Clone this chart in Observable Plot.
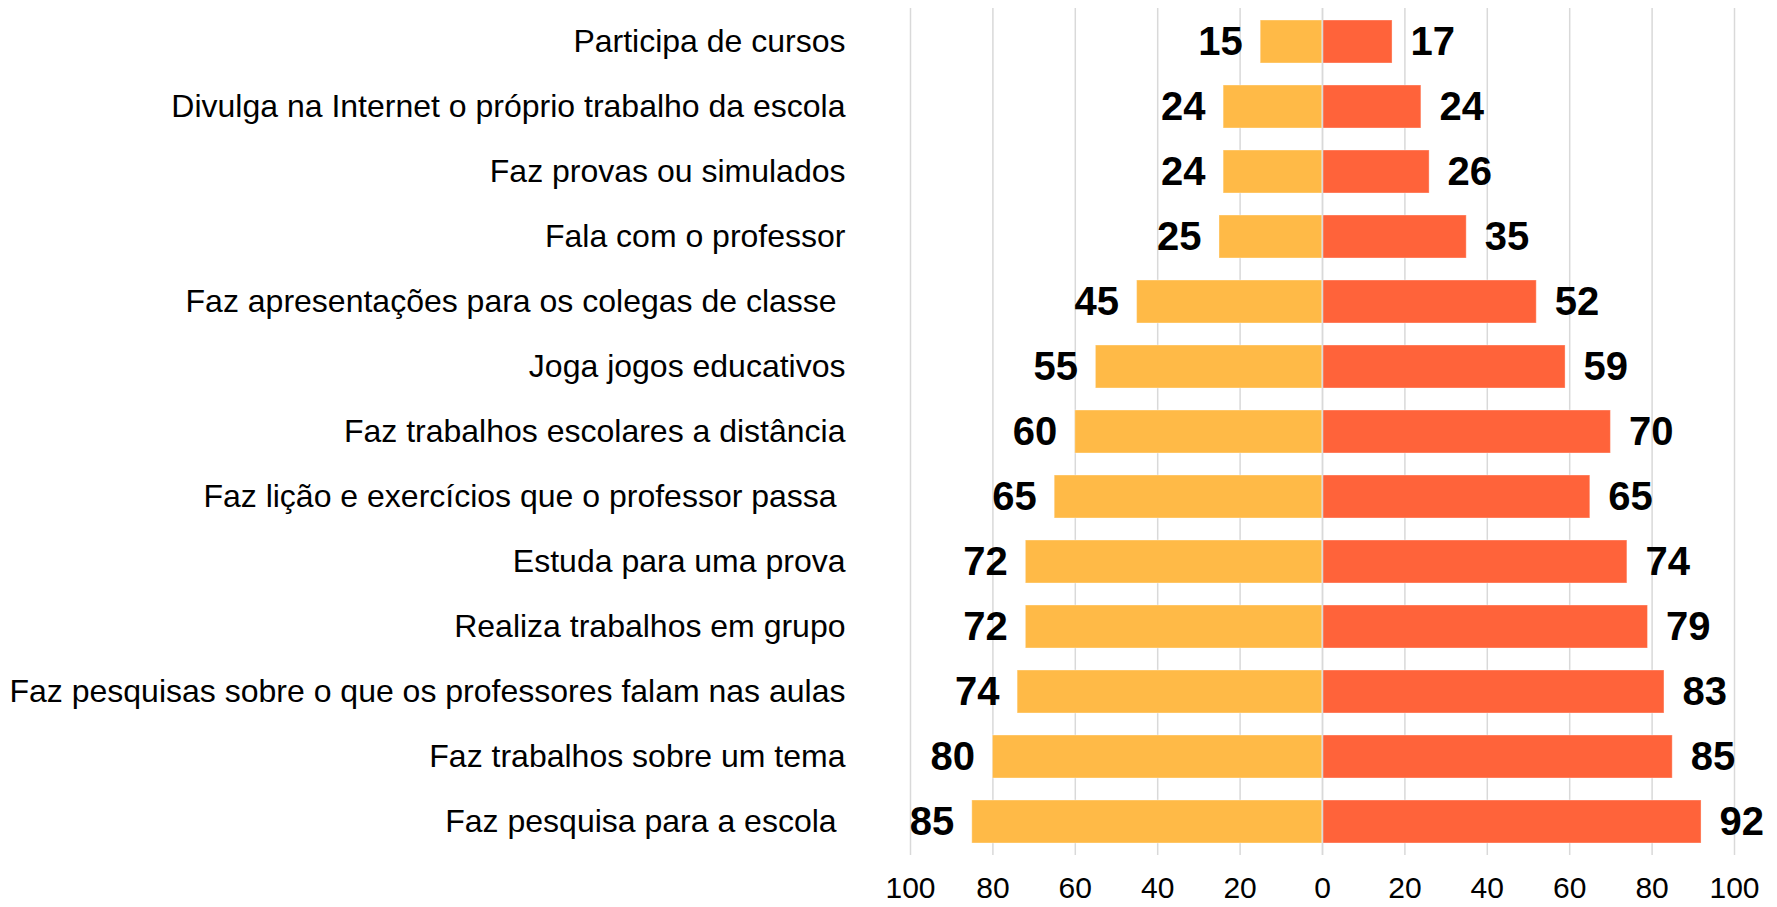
<!DOCTYPE html>
<html>
<head>
<meta charset="utf-8">
<script src="https://cdn.jsdelivr.net/npm/d3@7"></script>
<script src="https://cdn.jsdelivr.net/npm/@observablehq/plot@0.6"></script>
<style>
  html, body { margin: 0; padding: 0; background: #fff; }
  svg text { white-space: pre; }
</style>
</head>
<body>
<div id="chart"></div>
<script>
const categories = [
  "Participa de cursos",
  "Divulga na Internet o próprio trabalho da escola",
  "Faz provas ou simulados",
  "Fala com o professor",
  "Faz apresentações para os colegas de classe ",
  "Joga jogos educativos",
  "Faz trabalhos escolares a distância",
  "Faz lição e exercícios que o professor passa ",
  "Estuda para uma prova",
  "Realiza trabalhos em grupo",
  "Faz pesquisas sobre o que os professores falam nas aulas",
  "Faz trabalhos sobre um tema",
  "Faz pesquisa para a escola "
];
const leftValues  = [15, 24, 24, 25, 45, 55, 60, 65, 72, 72, 74, 80, 85];
const rightValues = [17, 24, 26, 35, 52, 59, 70, 65, 74, 79, 83, 85, 92];
const xTicks = [-100, -80, -60, -40, -20, 0, 20, 40, 60, 80, 100];

const leftData = categories.map((c, i) => ({cat: c, v: leftValues[i]}));
const rightData = categories.map((c, i) => ({cat: c, v: rightValues[i]}));

const chart = Plot.plot({
  width: 1777,
  height: 907,
  marginLeft: 910,
  marginRight: 43,
  marginTop: 8,
  marginBottom: 52,
  style: {fontFamily: "'Liberation Sans', Arial, sans-serif", color: "#000", background: "#fff"},
  x: {domain: [-100, 100]},
  y: {domain: categories, paddingInner: 0.34, paddingOuter: 0.174},
  marks: [
    Plot.ruleX(xTicks, {stroke: "#d9d9d9", strokeWidth: 1.5}),
    Plot.barX(leftData, {y: "cat", x1: 0, x2: d => -d.v, fill: "#FFBA47", stroke: "#fff", strokeOpacity: 0.35, strokeWidth: 1}),
    Plot.barX(rightData, {y: "cat", x1: 0, x2: "v", fill: "#FF633A", stroke: "#fff", strokeOpacity: 0.35, strokeWidth: 1}),
    Plot.ruleX([0], {stroke: "#d9d9d9", strokeWidth: 1.5}),
    Plot.text(leftData, {y: "cat", x: d => -d.v, text: d => String(d.v), textAnchor: "end", dx: -18, fontSize: 40, fontWeight: "bold", fill: "#000", fontFamily: "'Liberation Sans', Arial, sans-serif"}),
    Plot.text(rightData, {y: "cat", x: "v", text: d => String(d.v), textAnchor: "start", dx: 18, fontSize: 40, fontWeight: "bold", fill: "#000", fontFamily: "'Liberation Sans', Arial, sans-serif"}),
    Plot.axisY({tickSize: 0, tickPadding: 65, fontSize: 32, label: null, fontFamily: "'Liberation Sans', Arial, sans-serif"}),
    Plot.axisX({ticks: xTicks, tickFormat: d => String(Math.abs(d)), tickSize: 0, tickPadding: 21, fontSize: 30, label: null, fontFamily: "'Liberation Sans', Arial, sans-serif"})
  ]
});
document.getElementById("chart").appendChild(chart);
</script>
</body>
</html>
